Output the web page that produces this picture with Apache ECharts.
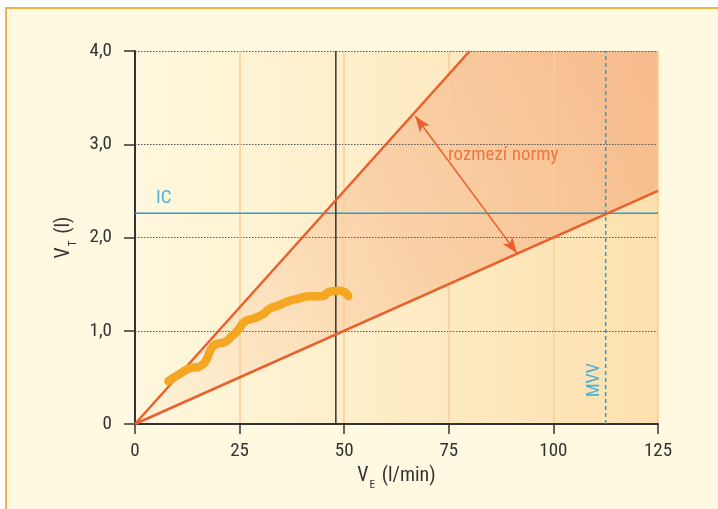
<!DOCTYPE html>
<html><head><meta charset="utf-8">
<script src="https://cdn.jsdelivr.net/npm/echarts@6/dist/echarts.min.js"></script>
<style>
html,body{margin:0;padding:0;background:#fff;width:718px;height:509px;overflow:hidden;}
#frame{position:absolute;left:5px;top:7px;width:713px;height:502px;background:#FFF9E2;border-left:2px solid #F6B24A;border-top:2px solid #F6B24A;box-sizing:border-box;}
#chart{position:absolute;left:0;top:0;width:718px;height:509px;}
</style></head><body>
<div id="frame"></div>
<div id="chart"></div>
<script>
// ---- data ----
const xTicks = [0, 25, 50, 75, 100, 125];
const yTickLabels = ['0', '1,0', '2,0', '3,0', '4,0'];
const upperNorm = [[0, 0], [80, 4]];      // V_T = VE/20
const lowerNorm = [[0, 0], [125, 2.5]];   // V_T = VE/50
const icValue = 2.26;
const mvvValue = 112.5;
const markerVE = 48;
const patientVE = [8.0, 10.8, 13.2, 15.1, 16.5, 17.4, 18.0, 19.1, 21.5, 23.1, 24.3, 26.3, 28.3, 30.3, 32.3, 34.3, 36.3, 38.7, 41.8, 44.6, 46.6, 49.0, 51.0];
const patientVT = [0.46, 0.54, 0.60, 0.61, 0.65, 0.72, 0.79, 0.85, 0.88, 0.94, 0.99, 1.10, 1.13, 1.17, 1.24, 1.27, 1.31, 1.34, 1.37, 1.37, 1.42, 1.43, 1.37];
const arrowFrom = [67.0, 3.30];
const arrowTo = [91.3, 1.83];
const labelIC = [6.9, 2.42];
const labelMVV = [109.8, 0.47];
const labelNorm = [88.0, 2.88];

const FONT = "'Roboto Condensed', 'Fira Sans Condensed', 'DejaVu Sans Condensed', sans-serif";
const TXT = '#333333';
const ORANGE = '#E8602C';
const BLUE = '#22A0DA';

const chart = echarts.init(document.getElementById('chart'), null, {renderer: 'canvas'});

const xMin = xTicks[0], xMax = xTicks[xTicks.length - 1];
const yMin = 0, yMax = yTickLabels.length - 1;

const subRich = {
  a: {fontFamily: FONT, fontSize: 20, color: TXT, verticalAlign: 'bottom', padding: [0, 0, 5, 0]},
  b: {fontFamily: FONT, fontSize: 11, color: TXT, verticalAlign: 'bottom', padding: [0, 2, 0, 1]}
};

const option = {
  animation: false,
  backgroundColor: 'transparent',
  grid: {
    left: 135, right: 60, top: 51, bottom: 85, show: true, borderWidth: 0,
    backgroundColor: new echarts.graphic.LinearGradient(0, 0, 1, 0, [
      {offset: 0, color: '#FFF8DE'},
      {offset: 1, color: '#FDE0AE'}
    ])
  },
  xAxis: {
    type: 'value', min: xMin, max: xMax, interval: 25, z: 3,
    name: '{a|V}{b|E}{a| (l/min)}', nameLocation: 'middle', nameGap: 42,
    nameTextStyle: {rich: subRich},
    axisLine: {lineStyle: {color: '#333', width: 2}},
    axisTick: {length: 10, lineStyle: {color: '#333', width: 1.5}},
    axisLabel: {margin: 18, fontFamily: FONT, fontSize: 19, color: TXT},
    splitLine: {show: true, lineStyle: {color: 'rgba(250,205,150,0.75)', width: 2}}
  },
  yAxis: {
    type: 'value', min: yMin, max: yMax, interval: 1, z: 3,
    name: '{a|V}{b|T}{a| (l)}', nameLocation: 'middle', nameGap: 52, nameRotate: 90,
    nameTextStyle: {rich: subRich},
    axisLine: {show: true, lineStyle: {color: '#333', width: 2}},
    axisTick: {show: true, length: 11, lineStyle: {color: '#333', width: 1.5}},
    axisLabel: {margin: 23, fontFamily: FONT, fontSize: 19, color: TXT,
      formatter: v => yTickLabels[Math.round(v)]},
    splitLine: {show: true, lineStyle: {color: '#555', width: 1, type: [1.5, 1.5]}}
  },
  series: [
    {
      type: 'custom', z: 1, silent: true,
      data: [0],
      renderItem: function (params, api) {
        const pts = [upperNorm[0], upperNorm[1], [xMax, yMax], lowerNorm[1]].map(p => api.coord(p));
        return {
          type: 'polygon',
          shape: {points: pts},
          style: {
            fill: new echarts.graphic.LinearGradient(0, 1, 1, 0, [
              {offset: 0, color: 'rgba(245,175,125,0.05)'},
              {offset: 0.5, color: 'rgba(243,165,118,0.36)'},
              {offset: 1, color: 'rgba(242,160,115,0.58)'}
            ])
          }
        };
      }
    },
    {
      type: 'line', z: 4, symbol: 'none', silent: true,
      data: upperNorm, lineStyle: {color: ORANGE, width: 2.5},
      markLine: {
        silent: true, symbol: ['arrow', 'arrow'], symbolSize: [9, 16],
        lineStyle: {color: ORANGE, width: 1.5, type: 'solid'},
        label: {show: false},
        data: [[{coord: arrowFrom}, {coord: arrowTo}]]
      }
    },
    {type: 'line', z: 4, symbol: 'none', silent: true, data: lowerNorm, lineStyle: {color: ORANGE, width: 2.5}},
    {type: 'line', z: 3, symbol: 'none', silent: true, data: [[xMin, icValue], [xMax, icValue]], lineStyle: {color: BLUE, width: 1.5}},
    {type: 'line', z: 3, symbol: 'none', silent: true, data: [[mvvValue, yMin], [mvvValue, yMax]], lineStyle: {color: BLUE, width: 1.5, type: [4, 3]}},
    {type: 'line', z: 3, symbol: 'none', silent: true, data: [[markerVE, yMin], [markerVE, yMax]], lineStyle: {color: '#333', width: 1.5}},
    {
      type: 'line', z: 6, symbol: 'none', silent: true, smooth: 0.5,
      data: patientVE.map((v, i) => [v, patientVT[i]]),
      lineStyle: {color: '#F5A623', width: 8.5, cap: 'round', join: 'round'}
    },
    {
      type: 'scatter', z: 7, silent: true, symbolSize: 1, itemStyle: {color: 'transparent'},
      data: [
        {value: labelIC, label: {formatter: 'IC', color: BLUE, fontSize: 19}},
        {value: labelMVV, label: {formatter: 'MVV', color: BLUE, fontSize: 18, rotate: 90}},
        {value: labelNorm, label: {formatter: 'rozmezí normy', color: ORANGE, fontSize: 19}}
      ],
      label: {show: true, position: 'inside', fontFamily: FONT}
    }
  ]
};
chart.setOption(option);
</script>
</body></html>
